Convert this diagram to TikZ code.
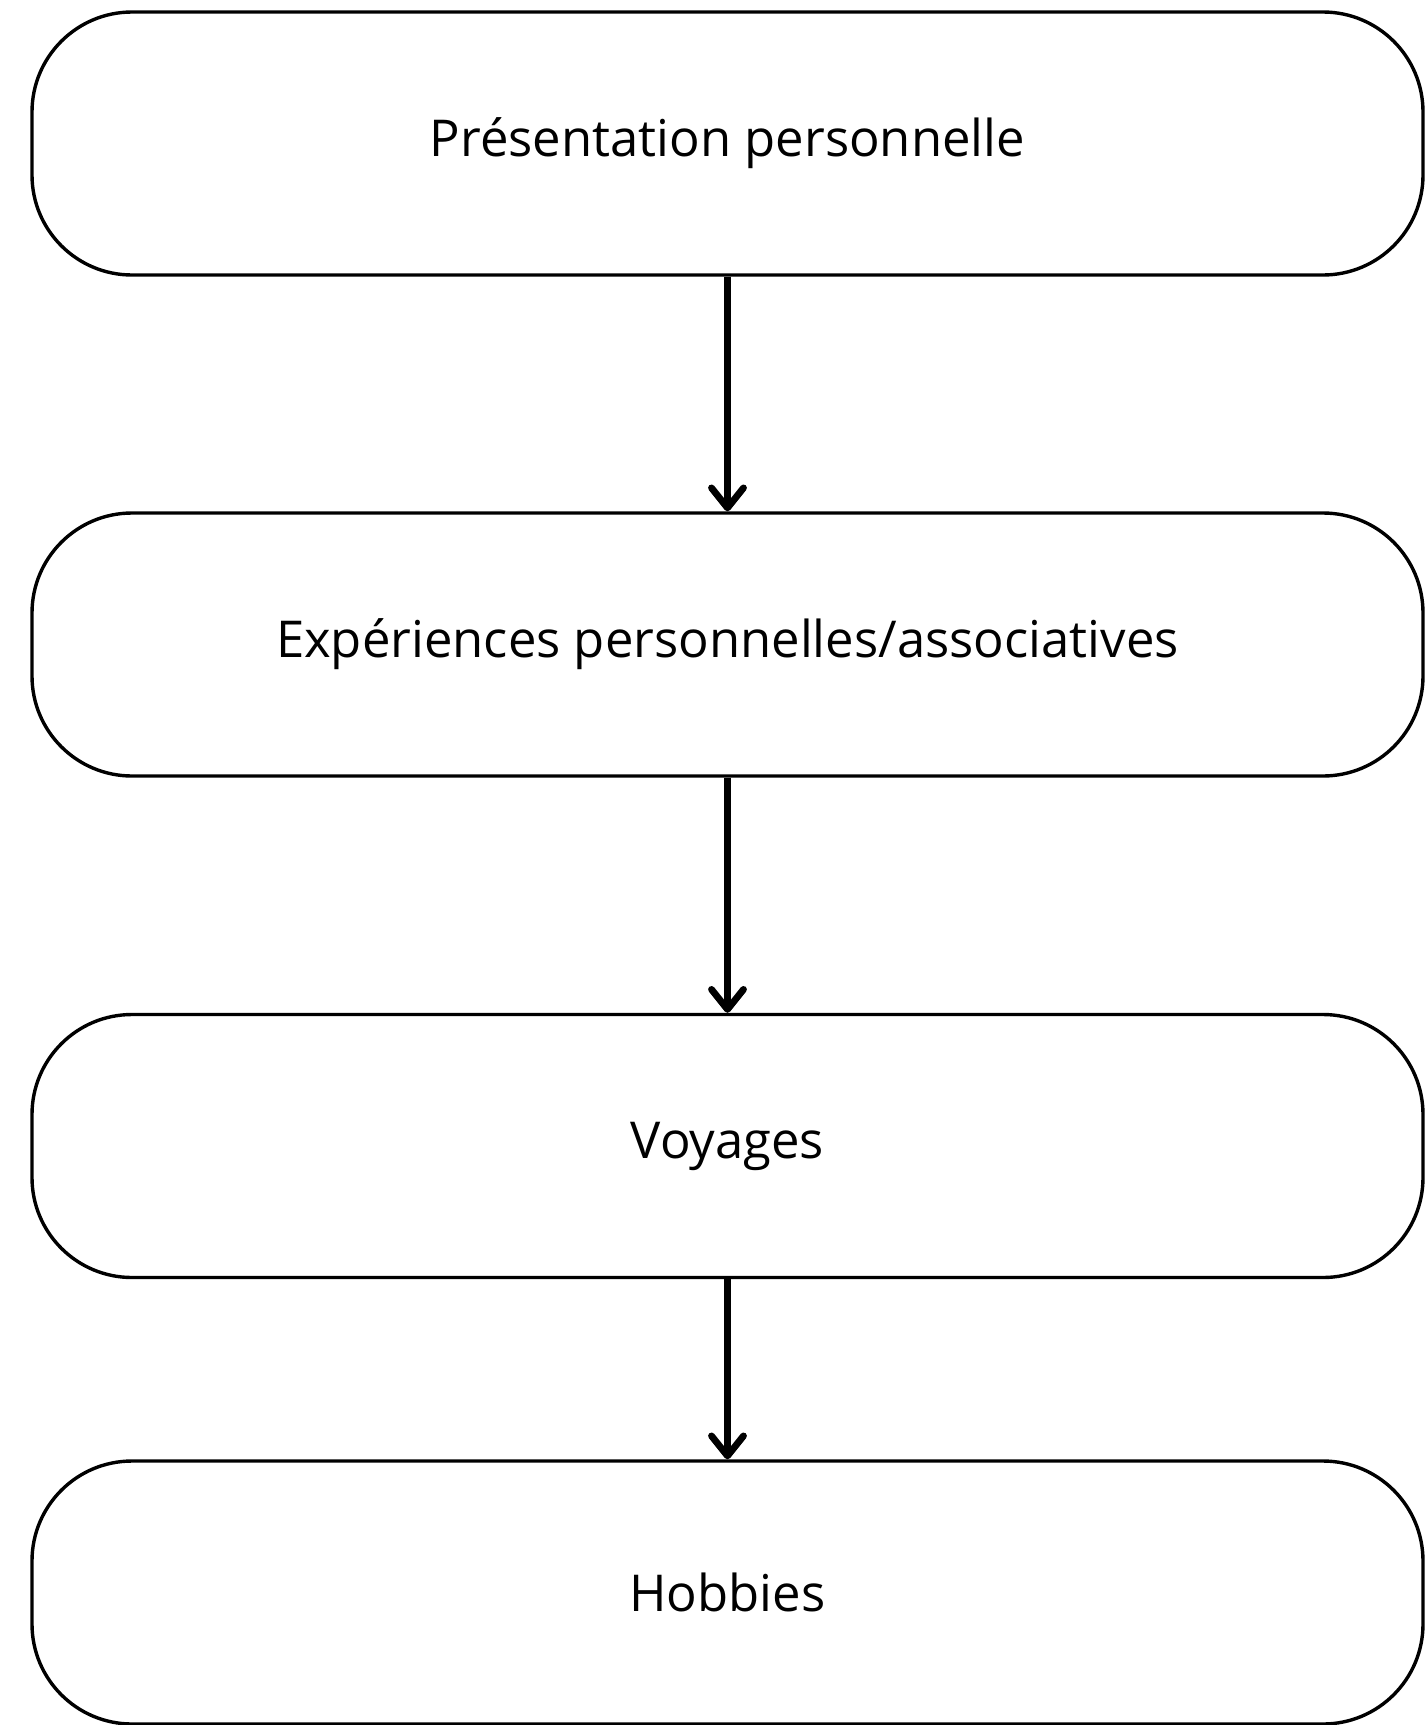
\documentclass[tikz,border=0pt]{standalone}
\usepackage{fontspec}
\setmainfont{Open Sans}
\usetikzlibrary{arrows.meta}
\begin{document}
\begin{tikzpicture}[x=0.5pt,y=-0.5pt,
  stepbox/.style={draw=black, line width=1.7pt, rounded corners=50pt, minimum width=695.5pt, minimum height=131.5pt, inner sep=0pt, font=\fontsize{25.4}{30}\selectfont, fill=white},
  conn/.style={line width=3.4pt, -{Straight Barb[length=10pt,width=16pt,line cap=round,line join=round]}}]
\useasboundingbox[fill=white] (0,0) rectangle (1426,1725);
\node[stepbox] (b1) at (727.5,143.5) {Présentation personnelle};
\node[stepbox] (b2) at (727.5,644.5) {Expériences personnelles/associatives};
\node[stepbox] (b3) at (727.5,1146) {Voyages};
\node[stepbox] (b4) at (727.5,1592.5) {Hobbies};
\draw[conn] (b1.south) -- (b2.north);
\draw[conn] (b2.south) -- (b3.north);
\draw[conn] (b3.south) -- (b4.north);
\end{tikzpicture}
\end{document}
